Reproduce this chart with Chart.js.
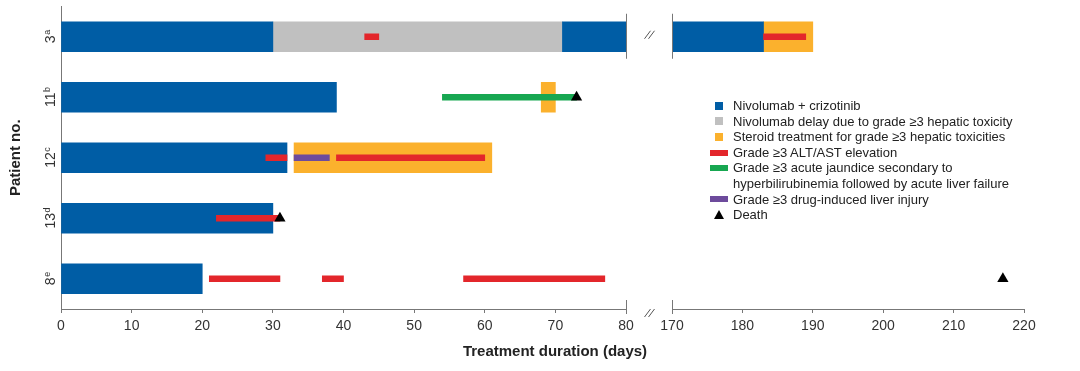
<!DOCTYPE html>
<html>
<head>
<meta charset="utf-8">
<script src="https://cdn.jsdelivr.net/npm/chart.js@4.4.1/dist/chart.umd.min.js"></script>
<style>
html,body{margin:0;padding:0;background:#fff;}
#wrap{position:relative;width:1080px;height:371px;overflow:hidden;font-family:'Liberation Sans',Arial,sans-serif;}
#left{position:absolute;left:0;top:0;width:660px;height:371px;}
#right{position:absolute;left:660px;top:0;width:420px;height:371px;}
#xtitle{position:absolute;left:455px;width:200px;top:342px;line-height:18px;text-align:center;font-weight:bold;font-size:15px;color:#222;white-space:nowrap;}
#legend{position:absolute;left:733px;top:98px;font-size:13px;line-height:15.6px;color:#222;}
#legend .item{position:relative;white-space:nowrap;}
#legend .mk{position:absolute;}
</style>
</head>
<body>
<div id="wrap">
  <div id="left"><canvas id="c1"></canvas></div>
  <div id="right"><canvas id="c2"></canvas></div>
  <div id="xtitle">Treatment duration (days)</div>
  <div id="legend"></div>
</div>
<script>
// ---------- data ----------
const patients  = ['3', '11', '12', '13', '8'];
const footnotes = ['a', 'b', 'c', 'd', 'e'];

// segments: [patient, start day, end day]
const nivolumabCrizotinib = [['3',0,30],['3',71,183],['11',0,39],['12',0,32],['13',0,30],['8',0,20]];
const nivolumabDelay      = [['3',30,71]];
const steroidTreatment    = [['3',183,190],['11',68,70],['12',33,61]];
const altAstElevation     = [['3',43,45],['3',183,189],['12',29,32],['12',39,60],['13',22,31],['8',21,31],['8',37,40],['8',57,77]];
const acuteJaundice       = [['11',54,73]];
const drugInducedInjury   = [['12',33,38]];
// deaths: [patient, day]
const deaths              = [['11',73],['13',31],['8',217]];

const leftRange  = [0, 80];
const rightRange = [170, 220];
const xTicksStep = 10;

// ---------- styling ----------
const BLUE = '#005da5', GREY = '#c0c0c0', ORANGE = '#fbb12d', RED = '#e3262b',
      GREEN = '#17a751', PURPLE = '#6d4b9c', BLACK = '#000', AXIS = '#777';
const FONT = "'Liberation Sans', Arial, sans-serif";

function toBars(segs, lo, hi) {
  return segs.filter(s => s[2] > lo && s[1] < hi)
             .map(s => ({ y: s[0], x: [Math.max(s[1], lo), Math.min(s[2], hi)] }));
}
function toPoints(pts, lo, hi) {
  return pts.filter(p => p[1] >= lo && p[1] <= hi).map(p => ({ y: p[0], x: p[1] }));
}

const seriesDefs = [
  { label: 'Nivolumab + crizotinib', segs: nivolumabCrizotinib, color: BLUE, thick: 30, order: 3, kind: 'square' },
  { label: 'Nivolumab delay due to grade \u22653 hepatic toxicity', segs: nivolumabDelay, color: GREY, thick: 30, order: 3, kind: 'square' },
  { label: 'Steroid treatment for grade \u22653 hepatic toxicities', segs: steroidTreatment, color: ORANGE, thick: 30, order: 3, kind: 'square' },
  { label: 'Grade \u22653 ALT/AST elevation', segs: altAstElevation, color: RED, thick: 6, order: 2, kind: 'line' },
  { label: 'Grade \u22653 acute jaundice secondary to\nhyperbilirubinemia followed by acute liver failure', segs: acuteJaundice, color: GREEN, thick: 6, order: 2, kind: 'line' },
  { label: 'Grade \u22653 drug-induced liver injury', segs: drugInducedInjury, color: PURPLE, thick: 6, order: 2, kind: 'line' }
];

function makeDatasets(lo, hi) {
  const ds = seriesDefs.map(d => ({
    type: 'bar', label: d.label, data: toBars(d.segs, lo, hi),
    backgroundColor: d.color, borderWidth: 0, barThickness: d.thick,
    grouped: false, order: d.order
  }));
  ds.push({
    type: 'line', label: 'Death', data: toPoints(deaths, lo, hi),
    showLine: false, pointStyle: 'triangle', pointRadius: 6.5, pointHoverRadius: 6.5,
    backgroundColor: BLACK, borderColor: BLACK, borderWidth: 0, order: 1, clip: false
  });
  return ds;
}

// ---------- plugins ----------
const yLabelPlugin = {
  id: 'yLabels',
  afterDraw(chart) {
    const ctx = chart.ctx, ys = chart.scales.y;
    ctx.save();
    ctx.fillStyle = '#333';
    patients.forEach((p, i) => {
      const y = ys.getPixelForValue(i);
      ctx.save();
      ctx.translate(54.5, y);
      ctx.rotate(-Math.PI / 2);
      ctx.font = '14px ' + FONT;
      const w1 = ctx.measureText(p).width;
      ctx.font = '9px ' + FONT;
      const w2 = ctx.measureText(footnotes[i]).width;
      const x0 = -(w1 + w2) / 2;
      ctx.textBaseline = 'alphabetic';
      ctx.textAlign = 'left';
      ctx.font = '14px ' + FONT;
      ctx.fillText(p, x0, 0);
      ctx.font = '9px ' + FONT;
      ctx.fillText(footnotes[i], x0 + w1 + 0.5, -5);
      ctx.restore();
    });
    // y axis title
    ctx.save();
    ctx.translate(16, (chart.chartArea.top + chart.chartArea.bottom) / 2);
    ctx.rotate(-Math.PI / 2);
    ctx.font = 'bold 15px ' + FONT;
    ctx.fillStyle = '#222';
    ctx.textAlign = 'center';
    ctx.textBaseline = 'middle';
    ctx.fillText('Patient no.', 0, 0);
    ctx.restore();
    ctx.restore();
  }
};

function breakPlugin(value, drawSlashes) {
  return {
    id: 'break' + value,
    afterDraw(chart) {
      const ctx = chart.ctx, xs = chart.scales.x, ys = chart.scales.y;
      const x = Math.round(xs.getPixelForValue(value)) + 0.5;
      const rowY = ys.getPixelForValue(0);
      const bottom = chart.chartArea.bottom;
      ctx.save();
      ctx.strokeStyle = AXIS;
      ctx.lineWidth = 1;
      ctx.beginPath();
      ctx.moveTo(x, rowY - 23); ctx.lineTo(x, rowY + 22);
      ctx.moveTo(x, bottom - 9); ctx.lineTo(x, bottom + 5);
      ctx.stroke();
      if (drawSlashes) {
        ctx.strokeStyle = '#555';
        const sx = x + 18;
        const marks = [rowY - 2, bottom + 4];
        ctx.beginPath();
        marks.forEach(my => {
          ctx.moveTo(sx, my + 4); ctx.lineTo(sx + 6, my - 4);
          ctx.moveTo(sx + 4, my + 4); ctx.lineTo(sx + 10, my - 4);
        });
        ctx.stroke();
      }
      ctx.restore();
    }
  };
}

function makeOptions(range, padding, showYAxis) {
  return {
    responsive: true, maintainAspectRatio: false, animation: false,
    indexAxis: 'y',
    layout: { padding },
    plugins: { legend: { display: false }, tooltip: { enabled: false } },
    scales: {
      x: {
        type: 'linear', min: range[0], max: range[1],
        ticks: { stepSize: xTicksStep, color: '#333', font: { family: FONT, size: 14 }, padding: 5, maxRotation: 0 },
        grid: { drawOnChartArea: false, drawTicks: true, tickLength: 4, color: AXIS },
        border: { display: true, color: AXIS, width: 1 },
        afterFit(s) { s.height = 62; s.paddingLeft = 0; s.paddingRight = 0; }
      },
      y: {
        type: 'category', labels: patients, offset: true,
        display: showYAxis,
        ticks: { display: false },
        grid: { display: false },
        border: { display: showYAxis, color: AXIS, width: 1 },
        afterFit(s) { if (showYAxis) s.width = 61; s.paddingTop = 0; s.paddingBottom = 0; }
      }
    }
  };
}

new Chart(document.getElementById('c1'), {
  data: { labels: patients, datasets: makeDatasets(leftRange[0], leftRange[1]) },
  options: makeOptions(leftRange, { left: 0, right: 34, top: 6, bottom: 0 }, true),
  plugins: [yLabelPlugin, breakPlugin(leftRange[1], true)]
});

new Chart(document.getElementById('c2'), {
  data: { labels: patients, datasets: makeDatasets(rightRange[0], rightRange[1]) },
  options: makeOptions(rightRange, { left: 12, right: 56, top: 6, bottom: 0 }, false),
  plugins: [breakPlugin(rightRange[0], false)]
});

// ---------- legend (HTML, built from the same series definitions) ----------
const legend = document.getElementById('legend');
seriesDefs.concat([{ label: 'Death', color: BLACK, kind: 'triangle' }]).forEach(d => {
  const item = document.createElement('div');
  item.className = 'item';
  const mk = document.createElement('span');
  mk.className = 'mk';
  if (d.kind === 'square') {
    Object.assign(mk.style, { left: '-18px', top: '3.8px', width: '8px', height: '8px', background: d.color });
  } else if (d.kind === 'line') {
    Object.assign(mk.style, { left: '-23px', top: '4.8px', width: '18px', height: '6px', background: d.color });
  } else {
    Object.assign(mk.style, { left: '-19px', top: '3px', width: '0', height: '0',
      borderLeft: '5px solid transparent', borderRight: '5px solid transparent', borderBottom: '9px solid ' + d.color });
  }
  item.appendChild(mk);
  d.label.split('\n').forEach((ln, k) => {
    const t = document.createElement('div');
    t.textContent = ln;
    item.appendChild(t);
  });
  legend.appendChild(item);
});
</script>
</body>
</html>
